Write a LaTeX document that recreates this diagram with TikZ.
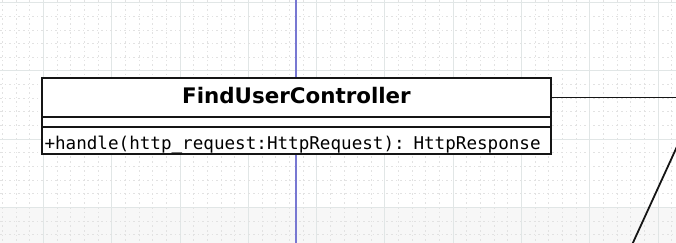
\documentclass[tikz,border=0pt]{standalone}
\usepackage{fontspec}
\setmainfont{DejaVu Sans}
\setmonofont{DejaVu Sans Mono}
\usetikzlibrary{positioning}
\definecolor{gridline}{HTML}{E1E6E6}
\definecolor{griddot}{HTML}{E2E2E2}
\definecolor{guideblue}{HTML}{7878D2}
\definecolor{umlink}{HTML}{151515}
\tikzset{
  umlpart/.style={draw=umlink, fill=white, line width=1.8pt, minimum width=509pt,
    inner sep=0pt, outer sep=0pt},
  link/.style={draw=umlink, line width=1.8pt},
}

\begin{document}
\begin{tikzpicture}[x=1pt,y=-1pt]
  \useasboundingbox (0,0) rectangle (676,243);
  \fill[black!3] (0,207) rectangle (676,243);

  % editor grid
  \begin{scope}
    \clip (0,0) rectangle (676,243);
    \foreach \k in {0,...,49}{
      \pgfmathsetmacro{\gx}{2.5+13.66*\k}
      \pgfmathtruncatemacro{\major}{mod(\k,5)==3}
      \ifnum\major=1
        \draw[gridline, line width=1pt] (\gx,0) -- (\gx,243);
      \else
        \draw[griddot, line width=1pt, dash pattern=on 1.6pt off 3pt] (\gx,0) -- (\gx,243);
      \fi
    }
    \foreach \k in {0,...,17}{
      \pgfmathsetmacro{\gy}{2.7+13.66*\k}
      \pgfmathtruncatemacro{\major}{mod(\k,5)==0}
      \ifnum\major=1
        \draw[gridline, line width=1pt] (0,\gy) -- (676,\gy);
      \else
        \draw[griddot, line width=1pt, dash pattern=on 1.6pt off 3pt] (0,\gy) -- (676,\gy);
      \fi
    }
    \draw[guideblue, line width=1.1pt] (296,0) -- (296,243);
  \end{scope}

  % class box
  \node[umlpart, text height=25pt, text depth=14pt,
        font=\bfseries\fontsize{21.4}{25}\selectfont] (title) at (296.5,97.5) {FindUserController};
  \node[umlpart, minimum height=10pt, below=0pt of title] (attrs) {};
  \node[umlpart, below=0pt of attrs, text width=504pt, align=left, inner xsep=2.5pt,
        inner ysep=2pt, text height=20.5pt, text depth=2.5pt,
        font=\ttfamily\fontsize{17.6}{20}\selectfont] (ops)
        {+handle(http\_request:HttpRequest): HttpResponse};

  % associations
  \coordinate (assocend) at (676,97.5);
  \coordinate (diagtop) at (680,140);
  \coordinate (diagbot) at (631,247);
  \draw[link] (title.east) -- (assocend);
  \begin{scope}
    \clip (0,0) rectangle (676,243);
    \draw[link] (diagtop) -- (diagbot);
  \end{scope}
\end{tikzpicture}
\end{document}
